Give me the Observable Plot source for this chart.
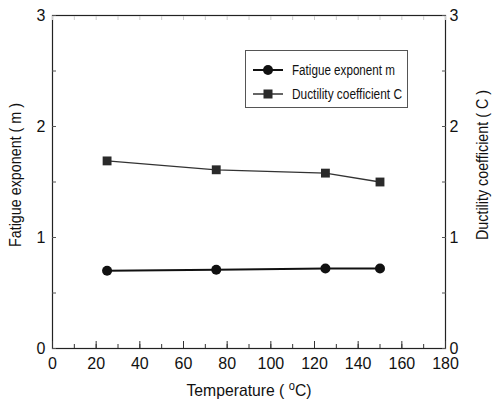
<!DOCTYPE html>
<html><head><meta charset="utf-8">
<script src="https://cdn.jsdelivr.net/npm/d3@7"></script>
<script src="https://cdn.jsdelivr.net/npm/@observablehq/plot@0.6"></script>
<style>
body{margin:0;background:#fff;}
#wrap{position:relative;width:492px;height:400px;}
#legend{position:absolute;left:245px;top:50px;}
</style></head>
<body><div id="wrap"></div>
<script>
const temperature = [25, 75, 125, 150];
const fatigueExponent = [0.70, 0.71, 0.72, 0.72];
const ductilityCoeff = [1.69, 1.61, 1.58, 1.50];
const xTicks = [0, 20, 40, 60, 80, 100, 120, 140, 160, 180];
const yTicks = [0, 1, 2, 3];
const seriesNames = ["Fatigue exponent m", "Ductility coefficient C"];

const mData = temperature.map((t, i) => ({t, v: fatigueExponent[i]}));
const cData = temperature.map((t, i) => ({t, v: ductilityCoeff[i]}));

const font = `"Liberation Sans",Arial,sans-serif`;
const chart = Plot.plot({
  width: 492, height: 400,
  marginLeft: 52, marginRight: 47, marginTop: 15, marginBottom: 52,
  style: {fontFamily: font, fontSize: "16px", color: "#111", background: "#fff"},
  x: {domain: [0, 180]},
  y: {domain: [0, 3]},
  marks: [
    Plot.frame({stroke: "#222", strokeWidth: 1.2}),
    // minor ticks
    Plot.axisX(d3.range(0, 181, 10), {anchor: "bottom", tickSize: -4, text: null, label: null, stroke: "#333"}),
    Plot.axisX(d3.range(0, 181, 10), {anchor: "top", tickSize: -4, text: null, label: null, stroke: "#ccc"}),
    Plot.axisY(d3.range(0, 3.01, 0.5), {anchor: "left", tickSize: -4, text: null, label: null, stroke: "#555"}),
    Plot.axisY(d3.range(0, 3.01, 0.5), {anchor: "right", tickSize: -4, text: null, label: null, stroke: "#555"}),
    // major ticks
    Plot.axisX(xTicks, {anchor: "bottom", tickSize: -7, text: null, label: null, stroke: "#333"}),
    Plot.axisX(xTicks, {anchor: "bottom", tickSize: 0, tickPadding: 9, label: null, fontSize: 16, tickFormat: d3.format("d")}),
    Plot.axisY(yTicks, {anchor: "left", tickSize: 0, tickPadding: 7, label: null, fontSize: 16, tickFormat: d3.format("d")}),
    Plot.axisY(yTicks, {anchor: "right", tickSize: 0, tickPadding: 4, label: null, fontSize: 16, tickFormat: d3.format("d")}),
    // series
    Plot.line(cData, {x: "t", y: "v", stroke: "#333", strokeWidth: 1.3}),
    Plot.dot(cData, {x: "t", y: "v", symbol: "square", r: 5, fill: "#2a2a2a", stroke: "none"}),
    Plot.line(mData, {x: "t", y: "v", stroke: "#111", strokeWidth: 2}),
    Plot.dot(mData, {x: "t", y: "v", symbol: "circle", r: 5, fill: "#111", stroke: "none"})
  ]
});
const wrap = document.getElementById("wrap");
wrap.appendChild(chart);

const svg = d3.select(chart);
const lab = svg.append("g").attr("font-family", font).attr("font-size", 17).attr("fill", "#111");
const xl = lab.append("text").attr("x", 249).attr("y", 396).attr("text-anchor", "middle")
  .attr("textLength", 125).attr("lengthAdjust", "spacingAndGlyphs");
xl.append("tspan").text("Temperature ( ");
xl.append("tspan").attr("font-size", 12).attr("dy", -6).text("o");
xl.append("tspan").attr("dy", 6).text("C)");
lab.append("text").attr("transform", "translate(21,175) rotate(-90)").attr("text-anchor", "middle")
  .attr("textLength", 144).attr("lengthAdjust", "spacingAndGlyphs").text("Fatigue exponent ( m )");
lab.append("text").attr("transform", "translate(488,165) rotate(-90)").attr("text-anchor", "middle")
  .attr("textLength", 150).attr("lengthAdjust", "spacingAndGlyphs").text("Ductility coefficient ( C )");

// legend
const leg = d3.select(wrap).append("svg").attr("id", "legend").attr("width", 164).attr("height", 59)
  .attr("font-family", font).attr("font-size", 14).attr("fill", "#111");
leg.append("rect").attr("x", 0.5).attr("y", 0.5).attr("width", 162).attr("height", 57).attr("fill", "#fff").attr("stroke", "#555");
const items = [
  {name: seriesNames[0], y: 20, w: 103, sw: 2, col: "#111", shape: "circle"},
  {name: seriesNames[1], y: 44, w: 110, sw: 1.5, col: "#333", shape: "square"}
];
items.forEach(it => {
  leg.append("line").attr("x1", 8).attr("x2", 38).attr("y1", it.y).attr("y2", it.y).attr("stroke", it.col).attr("stroke-width", it.sw);
  if (it.shape === "circle") leg.append("circle").attr("cx", 23).attr("cy", it.y).attr("r", 5).attr("fill", "#111");
  else leg.append("rect").attr("x", 18.5).attr("y", it.y - 4.5).attr("width", 9).attr("height", 9).attr("fill", "#2a2a2a");
  leg.append("text").attr("x", 47).attr("y", it.y).attr("dy", "0.35em").attr("textLength", it.w)
    .attr("lengthAdjust", "spacingAndGlyphs").text(it.name);
});
</script></body></html>
